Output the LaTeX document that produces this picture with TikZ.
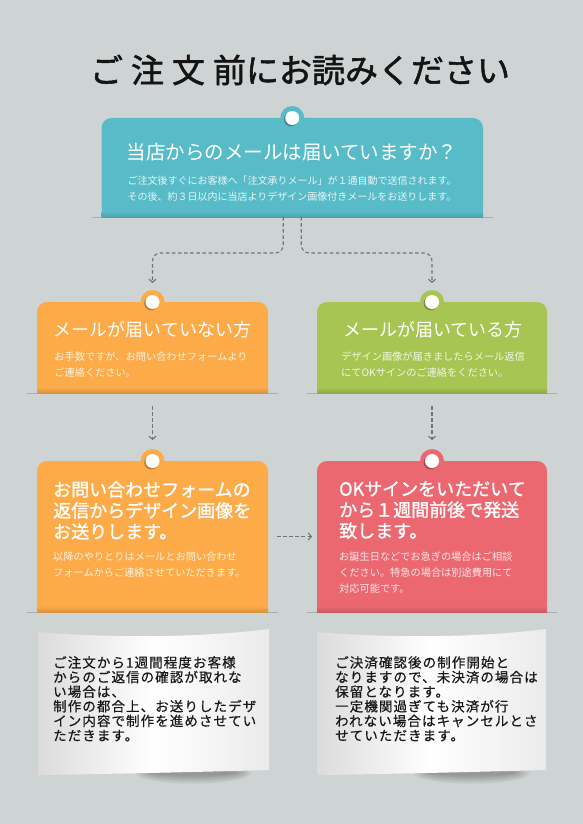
\documentclass[tikz,border=0pt]{standalone}
\usepackage{fontspec}
\setmainfont{Noto Sans CJK JP}
\newfontfamily\titlefont[FakeBold=1.6]{Noto Sans CJK JP}
\newfontfamily\headfont[FakeBold=1.2]{Noto Sans CJK JP}
\newfontfamily\handfont[LetterSpace=8, FakeBold=0.6]{Noto Sans CJK JP}
\usetikzlibrary{arrows.meta}
\definecolor{bg}{HTML}{CED4D4}
\definecolor{cteal}{HTML}{58BCC8}
\definecolor{corange}{HTML}{FCAB48}
\definecolor{cgreen}{HTML}{A6C552}
\definecolor{cred}{HTML}{EC6870}
\definecolor{arrowgray}{HTML}{6E7373}
\definecolor{shelfgray}{HTML}{A9AEAE}
\newcommand\drawpanel[2]{%
  \draw[shelfgray, line width=0.8pt] ([xshift=-10pt]#1.south west) -- ([xshift=10pt]#1.south east);
  \fill[#2, rounded corners=10pt] (#1.south west) rectangle (#1.north east);
  \fill[#2] (#1.south west) rectangle ([yshift=15pt]#1.south east);
  \shade[top color=#2, bottom color=#2!86!black] ([yshift=6pt]#1.south west) rectangle (#1.south east);
  \fill[#2] (#1.north) circle (12pt);
  \fill[black, opacity=.28] ([shift={(-1.3pt,-1.3pt)}]#1.north) circle (7pt);
  \fill[white] (#1.north) circle (7pt);
}
\newcommand\drawnote[1]{%
  \foreach \k in {1,...,6}{
    \fill[black, opacity=.05] ([shift={(40pt,2pt)}]#1.south) ellipse ({40pt+3*\k pt} and {1pt+1.6*\k pt});
  }
  \shade[left color=black!14, right color=black!8, middle color=white]
    (#1.north west) .. controls ([shift={(70pt,-6pt)}]#1.north west) and ([shift={(-70pt,-6pt)}]#1.north east) .. ([yshift=3pt]#1.north east)
    -- ([yshift=5pt]#1.south east)
    .. controls ([shift={(-70pt,3pt)}]#1.south east) and ([shift={(70pt,1pt)}]#1.south west) .. (#1.south west) -- cycle;
}
\begin{document}
\begin{tikzpicture}[x=1pt,y=-1pt,
  panel/.style={inner sep=0pt, outer sep=0pt, minimum width=#1},
  ttl/.style={text=white, inner sep=0pt, align=left, font=\fontsize{18}{21}\selectfont},
  bttl/.style={text=white, inner sep=0pt, align=left, font=\headfont\fontsize{18}{21}\selectfont},
  sub/.style={text=white, text opacity=.85, inner sep=0pt, align=left, font=\fontsize{10.2}{15.8}\selectfont},
  hand/.style={text=black!90, inner sep=0pt, align=left, font=\handfont\fontsize{13.5}{14.6}\selectfont},
  flow/.style={draw=arrowgray, line width=1.1pt, dash pattern=on 3.5pt off 2.6pt, -{Straight Barb[length=3pt,width=7pt]}}
]
\fill[bg] (0,0) rectangle (583,824);
\useasboundingbox (0,0) rectangle (583,824);

% title
\node[inner sep=0pt, font=\titlefont\fontsize{33}{33}\selectfont, text=black!92] (title) at (300,70) {ご\hspace{8pt}注\hspace{8pt}文\hspace{8pt}前にお読みください};

% panels (invisible frames)
\node[panel=381.5pt, minimum height=99pt] (q) at (292.25,167.5) {};
\node[panel=231pt, minimum height=91pt] (a) at (152.5,347.5) {};
\node[panel=230pt, minimum height=91pt] (b) at (432,347.5) {};
\node[panel=231pt, minimum height=151pt] (c) at (152.5,536.5) {};
\node[panel=230pt, minimum height=151pt] (d) at (432,536.5) {};
\node[panel=231pt, minimum height=143pt] (n1) at (153.5,703.5) {};
\node[panel=229pt, minimum height=143pt] (n2) at (431.5,703.5) {};

\drawpanel{q}{cteal}
\drawpanel{a}{corange}
\drawpanel{b}{cgreen}
\drawpanel{c}{corange}
\drawpanel{d}{cred}
\drawnote{n1}
\drawnote{n2}

% connectors
\draw[flow, rounded corners=8pt] ([xshift=-9pt]q.south) |- ([yshift=49pt]a.north) -- ([yshift=19pt]a.north);
\draw[flow, rounded corners=8pt] ([xshift=9pt]q.south) |- ([yshift=49pt]b.north) -- ([yshift=19pt]b.north);
\draw[flow] ([yshift=-13pt]a.south) -- ([yshift=21pt]c.north);
\draw[flow] ([yshift=-13pt]b.south) -- ([yshift=21pt]d.north);
\draw[flow] ([xshift=9pt]c.east) -- ([xshift=-5pt]d.west);

% texts
\node[ttl, anchor=north, font=\fontsize{19.5}{22}\selectfont] (qt) at (292,143) {当店からのメールは届いていますか？};
\node[sub, anchor=north, align=center, font=\fontsize{10}{16}\selectfont] (qs) at (292,176) {ご注文後すぐにお客様へ「注文承りメール」が１通自動で送信されます。\\その後、約３日以内に当店よりデザイン画像付きメールをお送りします。};

\node[ttl, anchor=north] (at) at (152.5,321) {メールが届いていない方};
\node[sub, anchor=north] (as) at (151,352) {お手数ですが、お問い合わせフォームより\\ご連絡ください。};

\node[ttl, anchor=north] (bt) at (433,321) {メールが届いている方};
\node[sub, anchor=north] (bs) at (433,352) {デザイン画像が届きましたらメール返信\\にてOKサインのご連絡をください。};

\node[bttl, anchor=north west] (ct) at (53,481) {お問い合わせフォームの\\返信からデザイン画像を\\お送りします。};
\node[sub, anchor=north west] (cs) at (53,552) {以降のやりとりはメールとお問い合わせ\\フォームからご連絡させていただきます。};

\node[bttl, anchor=north west] (dt) at (339,481) {OKサインをいただいて\\から１週間前後で発送\\致します。};
\node[sub, anchor=north west] (ds) at (339,552) {お誕生日などでお急ぎの場合はご相談\\ください。特急の場合は別途費用にて\\対応可能です。};

\node[hand, anchor=north west] (nt1) at (53,656) {ご注文から1週間程度お客様\\からのご返信の確認が取れな\\い場合は、\\制作の都合上、お送りしたデザ\\イン内容で制作を進めさせてい\\ただきます。};
\node[hand, anchor=north west] (nt2) at (335,656) {ご決済確認後の制作開始と\\なりますので、未決済の場合は\\保留となります。\\一定機関過ぎても決済が行\\われない場合はキャンセルとさ\\せていただきます。};
\end{tikzpicture}
\end{document}
